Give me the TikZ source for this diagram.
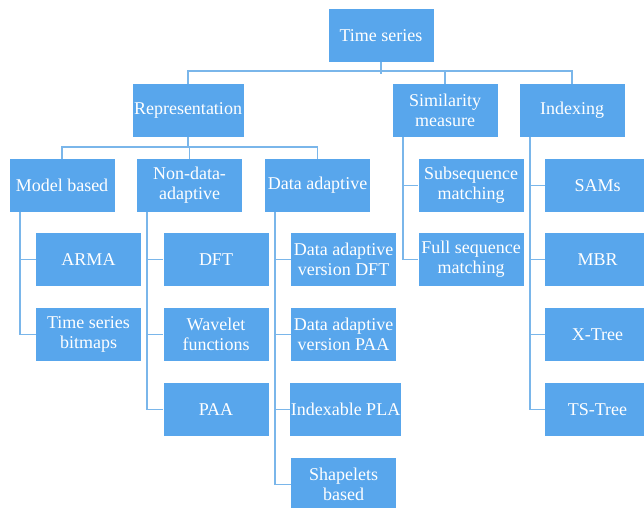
\documentclass[tikz,border=0pt]{standalone}
\usepackage{fontspec}
\setmainfont{Liberation Serif}
\usepackage{xcolor}
\usetikzlibrary{positioning}
\definecolor{boxblue}{RGB}{88,166,236}
\definecolor{lineblue}{RGB}{122,182,234}

\begin{document}
\begin{tikzpicture}[
  x=1pt, y=-1pt,
  block/.style={fill=boxblue, text=white, minimum width=105pt, minimum height=53pt,
    inner sep=0.5pt, align=center, font=\fontsize{18}{20}\selectfont},
  link/.style={draw=lineblue, line width=1.7pt}
]
  \useasboundingbox (0,0) rectangle (644,507);

  % Top levels
  \node[block] (ts)  at (381, 35.5)  {Time series};
  \node[block, minimum width=111pt] (rep) at (188, 110.5) {Representation};
  \node[block] (sim) at (445, 110.5) {Similarity\\measure};
  \node[block] (idx) at (572, 110.5) {Indexing};

  % Representation kinds
  \node[block] (mod) at (62, 185.5)    {Model based};
  \node[block] (non) at (189.5, 185.5) {Non-data-\\adaptive};
  \node[block] (dat) at (317.5, 185.5) {Data adaptive};

  % Model based
  \node[block] (arma) at (88.5, 259.5) {ARMA};
  \node[block] (bmp)  at (88.5, 334.5) {Time series\\bitmaps};

  % Non-data-adaptive
  \node[block] (dft) at (216, 259.5) {DFT};
  \node[block] (wav) at (216, 334.5) {Wavelet\\functions};
  \node[block] (paa) at (216, 409.5) {PAA};

  % Data adaptive
  \node[block] (ddft) at (343.5, 259.5) {Data adaptive\\version DFT};
  \node[block] (dpaa) at (343.5, 334.5) {Data adaptive\\version PAA};
  \node[block, minimum width=109pt] (pla) at (345.5, 409.5) {Indexable PLA};
  \node[block] (shp) at (343.5, 484.5) {Shapelets\\based};

  % Similarity measure
  \node[block] (sub)  at (471, 185.5) {Subsequence\\matching};
  \node[block] (full) at (471, 259.5) {Full sequence\\matching};

  % Indexing
  \node[block] (sam) at (597.5, 185.5) {SAMs};
  \node[block] (mbr) at (597.5, 259.5) {MBR};
  \node[block] (xt)  at (597.5, 334.5) {X-Tree};
  \node[block] (tst) at (597.5, 409.5) {TS-Tree};

  % Buses
  \draw[link] (ts.south) -- ++(0,11.5);
  \draw[link] (rep.north) -- ++(0,-12.5) -| (idx.north);
  \draw[link] (sim.north) -- ++(0,-12.5);
  \draw[link] (rep.south) -- ++(0,10);
  \draw[link] (mod.north) -- ++(0,-11.5) -| (dat.north);
  \draw[link] (non.north) -- ++(0,-11.5);

  % Trunks
  \draw[link] ([xshift=10.5pt]mod.south west) |- (bmp.west);
  \draw[link] ([xshift=10.5pt]mod.south west |- arma.west) -- (arma.west);
  \draw[link] ([xshift=10pt]non.south west) |- (paa.west);
  \foreach \n in {dft, wav}
    \draw[link] ([xshift=10pt]non.south west |- \n.west) -- (\n.west);
  \draw[link] ([xshift=10pt]dat.south west) |- (shp.west);
  \foreach \n in {ddft, dpaa, pla}
    \draw[link] ([xshift=10pt]dat.south west |- \n.west) -- (\n.west);
  \draw[link] ([xshift=10.5pt]sim.south west) |- (full.west);
  \draw[link] ([xshift=10.5pt]sim.south west |- sub.west) -- (sub.west);
  \draw[link] ([xshift=10.5pt]idx.south west) |- (tst.west);
  \foreach \n in {sam, mbr, xt}
    \draw[link] ([xshift=10.5pt]idx.south west |- \n.west) -- (\n.west);

\end{tikzpicture}
\end{document}
